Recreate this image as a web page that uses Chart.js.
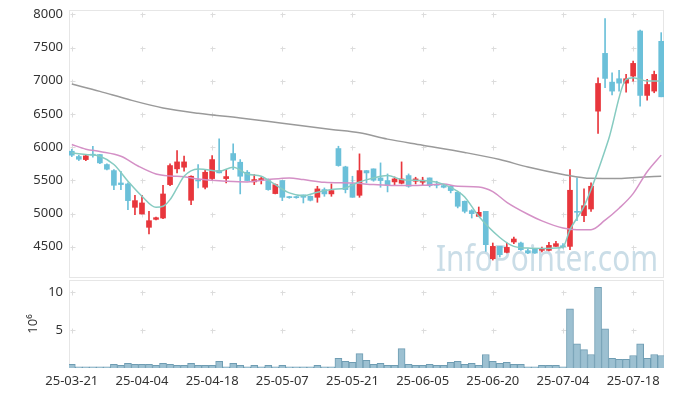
<!DOCTYPE html>
<html>
<head>
<meta charset="utf-8">
<script src="https://cdn.jsdelivr.net/npm/chart.js@4.4.0/dist/chart.umd.min.js"></script>
<style>
  body { margin: 0; background: #fff; }
  #wrap { position: relative; width: 673px; height: 397px; }
  #priceBox { position: absolute; left: 0; top: 0; width: 673px; height: 280px; }
  #volBox { position: absolute; left: 0; top: 278px; width: 673px; height: 119px; }
</style>
</head>
<body>
<div id="wrap">
  <div id="priceBox"><canvas id="priceChart"></canvas></div>
  <div id="volBox"><canvas id="volChart"></canvas></div>
</div>
<script>
// trading days (index = x position)
var dates = [
  '25-03-21','25-03-24','25-03-25','25-03-26','25-03-27','25-03-28','25-03-31','25-04-01','25-04-02','25-04-03',
  '25-04-04','25-04-07','25-04-08','25-04-09','25-04-10','25-04-11','25-04-14','25-04-15','25-04-16','25-04-17',
  '25-04-18','25-04-21','25-04-22','25-04-23','25-04-24','25-04-25','25-04-28','25-04-29','25-04-30','25-05-02',
  '25-05-07','25-05-08','25-05-09','25-05-12','25-05-13','25-05-14','25-05-15','25-05-16','25-05-19','25-05-20',
  '25-05-21','25-05-22','25-05-23','25-05-26','25-05-27','25-05-28','25-05-29','25-05-30','25-06-02','25-06-04',
  '25-06-05','25-06-09','25-06-10','25-06-11','25-06-12','25-06-13','25-06-16','25-06-17','25-06-18','25-06-19',
  '25-06-20','25-06-23','25-06-24','25-06-25','25-06-26','25-06-27','25-06-30','25-07-01','25-07-02','25-07-03',
  '25-07-04','25-07-07','25-07-08','25-07-09','25-07-10','25-07-11','25-07-14','25-07-15','25-07-16','25-07-17',
  '25-07-18','25-07-21','25-07-22','25-07-23','25-07-24'
];

var openP = [5939,5859,5813,5889,5889,5738,5647,5461,5446,5094, 4994,4793,4913,4933,5436,5673,5698,5200,5501,5396,
             5527,5648,5527,5904,5773,5622,5477,5497,5497,5301, 5497,5245,5245,5281,5260,5245,5361,5296,5979,5703,
             5446,5275,5647,5673,5537,5497,5477,5456,5572,5487, 5472,5537,5436,5421,5411,5321,5185,5044,4958,5034,
             4320,4506,4416,4572,4557,4441,4471,4446,4446,4506, 4511,4506,5034,4969,5069,6542,7412,6979,7030,6964,
             7070,7749,6779,6844,7593];
var highP = [5969,5879,5879,6014,5889,5748,5662,5637,5461,5275, 5275,5034,4948,5426,5750,5949,5864,5570,5738,5663,
             5874,6125,5663,6050,5813,5648,5587,5547,5522,5446, 5497,5260,5260,5281,5266,5411,5386,5446,6014,5713,
             5562,5899,5647,5673,5763,5597,5552,5778,5597,5547, 5547,5537,5487,5436,5421,5336,5190,5059,5099,5034,
             4557,4506,4557,4647,4572,4471,4476,4496,4567,4582, 4547,5663,5537,5371,5461,7045,7935,7120,7155,7095,
             7296,7764,7020,7145,7724];
var lowP  = [5858,5798,5798,5848,5753,5657,5361,5361,5059,4984, 4994,4692,4903,4923,5420,5612,5637,5135,5386,5371,
             5512,5612,5462,5663,5296,5491,5436,5446,5351,5296, 5195,5230,5230,5160,5190,5170,5260,5260,5713,5311,
             5245,5245,5462,5487,5396,5326,5426,5446,5396,5446, 5436,5401,5386,5386,5311,5085,5010,4933,4958,4431,
             4300,4345,4406,4547,4446,4396,4400,4421,4436,4506, 4481,4456,4893,4878,5034,6205,6894,6788,6844,6829,
             6995,6618,6708,6819,6758];
var closeP = [5879,5818,5869,5879,5763,5668,5426,5436,5195,5195, 5160,4893,4938,5295,5723,5778,5778,5562,5491,5622,
              5813,5613,5557,5803,5562,5497,5512,5527,5361,5436, 5245,5240,5240,5245,5200,5371,5296,5346,5723,5361,
              5245,5647,5612,5502,5497,5426,5522,5522,5411,5522, 5502,5421,5426,5396,5346,5110,5034,4999,5019,4532,
              4506,4381,4491,4617,4456,4406,4406,4471,4521,4547, 4501,5351,5019,5119,5411,6959,7035,6844,6964,7030,
              7261,6779,6944,7095,6758];

// volume, millions of shares
var volume = [0.48,0.15,0.15,0.15,0.15,0.15,0.48,0.35,0.6,0.48, 0.48,0.48,0.35,0.6,0.48,0.35,0.35,0.6,0.35,0.35,
              0.35,0.87,0.15,0.6,0.35,0.15,0.35,0.15,0.35,0.15, 0.35,0.15,0.15,0.15,0.15,0.35,0.15,0.15,1.26,0.87,
              0.74,1.9,1.0,0.48,0.6,0.35,0.35,2.56,0.48,0.35, 0.35,0.48,0.35,0.35,0.74,0.87,0.48,0.6,0.35,1.78,
              0.87,0.6,0.74,0.48,0.48,0.15,0.15,0.35,0.35,0.35, 0.15,7.8,3.2,2.43,1.78,10.65,5.17,1.26,1.13,1.13,
              1.65,3.2,1.26,1.78,1.65];

// moving averages (index, value)
var maShortIdx = [0,2,4,6,8,10,12,13,14,15,16,18,19,21,23,25,27,29,31,33,35,37,39,41,43,45,47,49,51,53,55,56,58,61,63,65,67,69,70,71,72,73,76.5,79,80,82,84];
var maShortVal = [5914,5890,5864,5738,5487,5260,5094,5110,5210,5386,5562,5672,5663,5637,5698,5597,5562,5436,5311,5270,5321,5361,5386,5477,5537,5572,5512,5500,5490,5440,5336,5250,4959,4640,4506,4481,4476,4481,4496,4758,4933,5109,6115,7020,7045,6995,6995];
var maMidIdx = [0,2,4,7,9.5,12,14,16,18,20,22,25,28,31,33,36,40,43,46,50,53,55,58,60,62,65,67,70,72,74,76,78,80,82,84];
var maMidVal = [6040,5970,5935,5864,5713,5597,5565,5555,5520,5500,5487,5477,5512,5537,5512,5471,5460,5436,5421,5426,5446,5410,5400,5330,5170,4990,4890,4783,4758,4758,4900,5080,5300,5630,5880];
var maLongIdx = [0,4,8,13,18,24,30,37,41,45,50,56,61,65,70,74,78,81,84];
var maLongVal = [6950,6840,6720,6590,6510,6440,6360,6266,6216,6121,6030,5920,5813,5700,5590,5530,5527,5547,5562];

var tickIdx = [0,10,20,30,40,50,60,70,80];
var priceTicks = [4500,5000,5500,6000,6500,7000,7500,8000];
var volTicks = [5,10];

var UP = '#e8363c', DOWN = '#6bc0d9';
var FONT = { family: 'Noto Sans', size: 13 };

function pairs(xs, ys) { return xs.map(function (x, k) { return { x: x, y: ys[k] }; }); }
var candleColors = openP.map(function (o, i) { return closeP[i] >= o ? UP : DOWN; });

// no extra room for the end labels, so the plot edges stay put
function noPad(s) { s.paddingTop = 0; s.paddingBottom = 0; s.paddingLeft = 0; s.paddingRight = 0; }

// light box round the plot, "+" marks at grid crossings, optional watermark
var framePlugin = {
  id: 'frame',
  beforeDatasetsDraw: function (chart, args, opts) {
    var ctx = chart.ctx, a = chart.chartArea, sx = chart.scales.x, sy = chart.scales.y;
    ctx.save();
    ctx.strokeStyle = '#e6e6e6';
    ctx.lineWidth = 1;
    ctx.strokeRect(a.left + 0.5, a.top + 0.5, a.right - a.left - 1, a.bottom - a.top - 1);
    ctx.strokeStyle = '#dcdcdc';
    tickIdx.forEach(function (t) {
      var x = Math.round(sx.getPixelForValue(t)) + 0.5;
      opts.yMarks.forEach(function (v) {
        var y = Math.round(sy.getPixelForValue(v)) + 0.5;
        ctx.beginPath();
        ctx.moveTo(x - 2, y); ctx.lineTo(x + 3, y);
        ctx.moveTo(x, y - 2); ctx.lineTo(x, y + 3);
        ctx.stroke();
      });
    });
    if (opts.watermark) {
      ctx.font = '36px "Noto Sans"';
      ctx.fillStyle = 'rgba(150,188,208,0.5)';
      ctx.textAlign = 'right';
      ctx.textBaseline = 'alphabetic';
      ctx.fillText('InfoPointer.com', a.right - 6, a.bottom - 7, 222);
    }
    ctx.restore();
  }
};

var xAxisBase = { type: 'linear', min: -0.4, max: 84.4, offset: false, grid: { display: false, offset: false }, border: { display: false } };

new Chart(document.getElementById('priceChart'), {
  type: 'bar',
  data: {
    datasets: [
      { type: 'line', data: pairs(maShortIdx, maShortVal), borderColor: '#86cbc1', borderWidth: 1.5, pointRadius: 0, cubicInterpolationMode: 'monotone', order: 0 },
      { type: 'line', data: pairs(maMidIdx, maMidVal), borderColor: '#d490c6', borderWidth: 1.5, pointRadius: 0, cubicInterpolationMode: 'monotone', order: 0 },
      { type: 'line', data: pairs(maLongIdx, maLongVal), borderColor: '#9a9a9a', borderWidth: 1.5, pointRadius: 0, cubicInterpolationMode: 'monotone', order: 0 },
      { data: lowP.map(function (l, i) { return { x: i, y: [l, highP[i]] }; }), backgroundColor: candleColors, barThickness: 1, grouped: false, order: 2 },
      { data: openP.map(function (o, i) { return { x: i, y: [o, closeP[i]] }; }), backgroundColor: candleColors, barThickness: 5, minBarLength: 1, grouped: false, order: 1 }
    ]
  },
  options: {
    responsive: true,
    maintainAspectRatio: false,
    animation: false,
    layout: { padding: { top: 10, right: 9, bottom: 2, left: 0 } },
    plugins: { legend: { display: false }, tooltip: { enabled: false }, frame: { yMarks: priceTicks, watermark: true } },
    scales: {
      x: Object.assign({}, xAxisBase, { ticks: { display: false }, afterFit: function (s) { s.height = 0; noPad(s); } }),
      y: {
        min: 4030, max: 8065,
        grid: { display: false, drawTicks: false },
        border: { display: false },
        afterBuildTicks: function (s) { s.ticks = priceTicks.map(function (v) { return { value: v }; }); },
        ticks: { color: '#333', font: FONT, padding: 6, callback: function (v) { return String(v); } },
        afterFit: function (s) { s.width = 69; noPad(s); }
      }
    }
  },
  plugins: [framePlugin]
});

new Chart(document.getElementById('volChart'), {
  type: 'bar',
  data: {
    datasets: [{
      data: volume.map(function (v, i) { return { x: i, y: v }; }),
      backgroundColor: '#9cc0d1',
      borderColor: '#6f9db3',
      borderWidth: 1,
      barPercentage: 1,
      categoryPercentage: 1
    }]
  },
  options: {
    responsive: true,
    maintainAspectRatio: false,
    animation: false,
    layout: { padding: { top: 2, right: 9, bottom: 0, left: 0 } },
    plugins: { legend: { display: false }, tooltip: { enabled: false }, frame: { yMarks: volTicks } },
    scales: {
      x: Object.assign({}, xAxisBase, {
        afterBuildTicks: function (s) { s.ticks = tickIdx.map(function (v) { return { value: v }; }); },
        ticks: { color: '#333', font: FONT, padding: -3, maxRotation: 0, autoSkip: false,
                 callback: function (v) { return dates[v]; } },
        afterFit: function (s) { s.height = 29; noPad(s); }
      }),
      y: {
        min: 0, max: 11.6,
        grid: { display: false, drawTicks: false },
        border: { display: false },
        afterBuildTicks: function (s) { s.ticks = volTicks.map(function (v) { return { value: v }; }); },
        ticks: { color: '#333', font: FONT, padding: 6, callback: function (v) { return String(v); } },
        title: { display: true, text: '10⁶', color: '#333', font: FONT, padding: { top: 25, bottom: 0 } },
        afterFit: function (s) { s.width = 69; noPad(s); }
      }
    }
  },
  plugins: [framePlugin]
});
</script>
</body>
</html>
